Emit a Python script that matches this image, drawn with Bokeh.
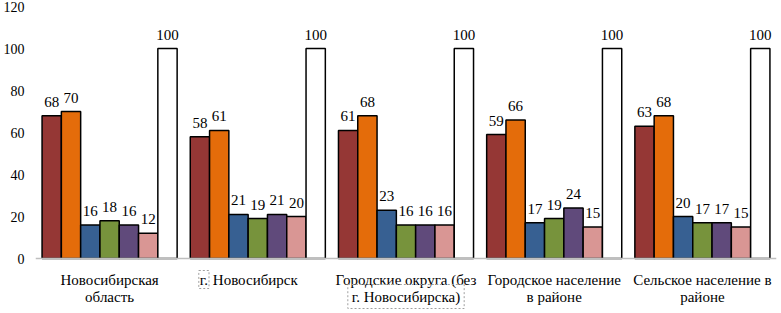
from bokeh.plotting import figure
from bokeh.models import ColumnDataSource, FixedTicker, Range1d, LabelSet, Label, Span
from bokeh.transform import dodge
from bokeh.embed import file_html
from bokeh.resources import INLINE

categories = ["Новосибирская\nобласть", "г. Новосибирск", "Городские округа (без\nг. Новосибирска)",
              "Городское население\nв районе", "Сельское население в\nрайоне"]
s1 = [68, 58, 61, 59, 63]
s2 = [70, 61, 68, 66, 68]
s3 = [16, 21, 23, 17, 20]
s4 = [18, 19, 16, 19, 17]
s5 = [16, 21, 16, 24, 17]
s6 = [12, 20, 16, 15, 15]
s7 = [100, 100, 100, 100, 100]
series = [s1, s2, s3, s4, s5, s6, s7]
colors = ["#953735", "#E46C0A", "#376092", "#77933C", "#604A7B", "#D99694", "#FFFFFF"]
y_ticks = [0, 20, 40, 60, 80, 100, 120]

FONT = "'Liberation Serif', 'Times New Roman', serif"
xs = [i + 0.5 for i in range(len(categories))]
data = {"x": xs}
for k, s in enumerate(series):
    data[f"s{k}"] = s
    data[f"l{k}"] = [str(v) for v in s]
src = ColumnDataSource(data)

p = figure(width=781, height=313, output_backend="svg", toolbar_location=None,
           x_range=Range1d(0, 5), y_range=Range1d(-26.19, 120),
           min_border_top=6, min_border_right=5, min_border_left=0, min_border_bottom=0)
p.outline_line_color = None
p.grid.grid_line_color = None
p.background_fill_color = "white"
p.border_fill_color = "white"

p.add_layout(Span(location=0, dimension="width", line_color="#BFBFBF", line_width=1.5))

w = 0.1302
for k in range(7):
    off = (k - 3) * w
    p.vbar(x=dodge("x", off, range=p.x_range), top=f"s{k}", width=w, bottom=0, source=src,
           fill_color=colors[k], line_color="black", line_width=1.5)
    lbl = LabelSet(x=dodge("x", off, range=p.x_range), y=f"s{k}", text=f"l{k}", source=src,
                   text_align="center", text_baseline="alphabetic", y_offset=9,
                   text_font=FONT, text_font_size="15px", text_color="black")
    p.add_layout(lbl)

p.yaxis.ticker = FixedTicker(ticks=y_ticks)
p.yaxis.axis_line_color = None
p.yaxis.major_tick_line_color = None
p.yaxis.minor_tick_line_color = None
p.yaxis.major_label_text_font = FONT
p.yaxis.major_label_text_font_size = "14px"
p.yaxis.major_label_text_color = "black"
p.yaxis.major_label_standoff = 5
p.xaxis.visible = False

# category labels, one Label per line; dotted boxes as in the source image
LINE = 17
for i, (x, c) in enumerate(zip(xs, categories)):
    for j, line in enumerate(c.split("\n")):
        yoff = -21 - LINE * j
        if i == 1 and line.startswith("г. "):
            p.add_layout(Label(x=x, y=0, text="г.", text_align="left", text_baseline="alphabetic",
                               x_offset=-59, y_offset=yoff, text_font=FONT, text_font_size="15px",
                               text_color="black", border_line_color="#A0A0A0",
                               border_line_dash="2 2", border_line_width=1, padding=1))
            p.add_layout(Label(x=x, y=0, text=line[3:], text_align="left", text_baseline="alphabetic",
                               x_offset=-45, y_offset=yoff, text_font=FONT, text_font_size="15px",
                               text_color="black"))
        elif i == 2 and j == 1:
            p.add_layout(Label(x=x, y=0, text=line, text_align="center", text_baseline="alphabetic",
                               y_offset=yoff, text_font=FONT, text_font_size="15px",
                               text_color="black", border_line_color="#A0A0A0",
                               border_line_dash="2 2", border_line_width=1, padding=4))
        else:
            p.add_layout(Label(x=x, y=0, text=line, text_align="center", text_baseline="alphabetic",
                               y_offset=yoff, text_font=FONT, text_font_size="15px",
                               text_color="black"))

open("out.html", "w").write(file_html(p, INLINE))
